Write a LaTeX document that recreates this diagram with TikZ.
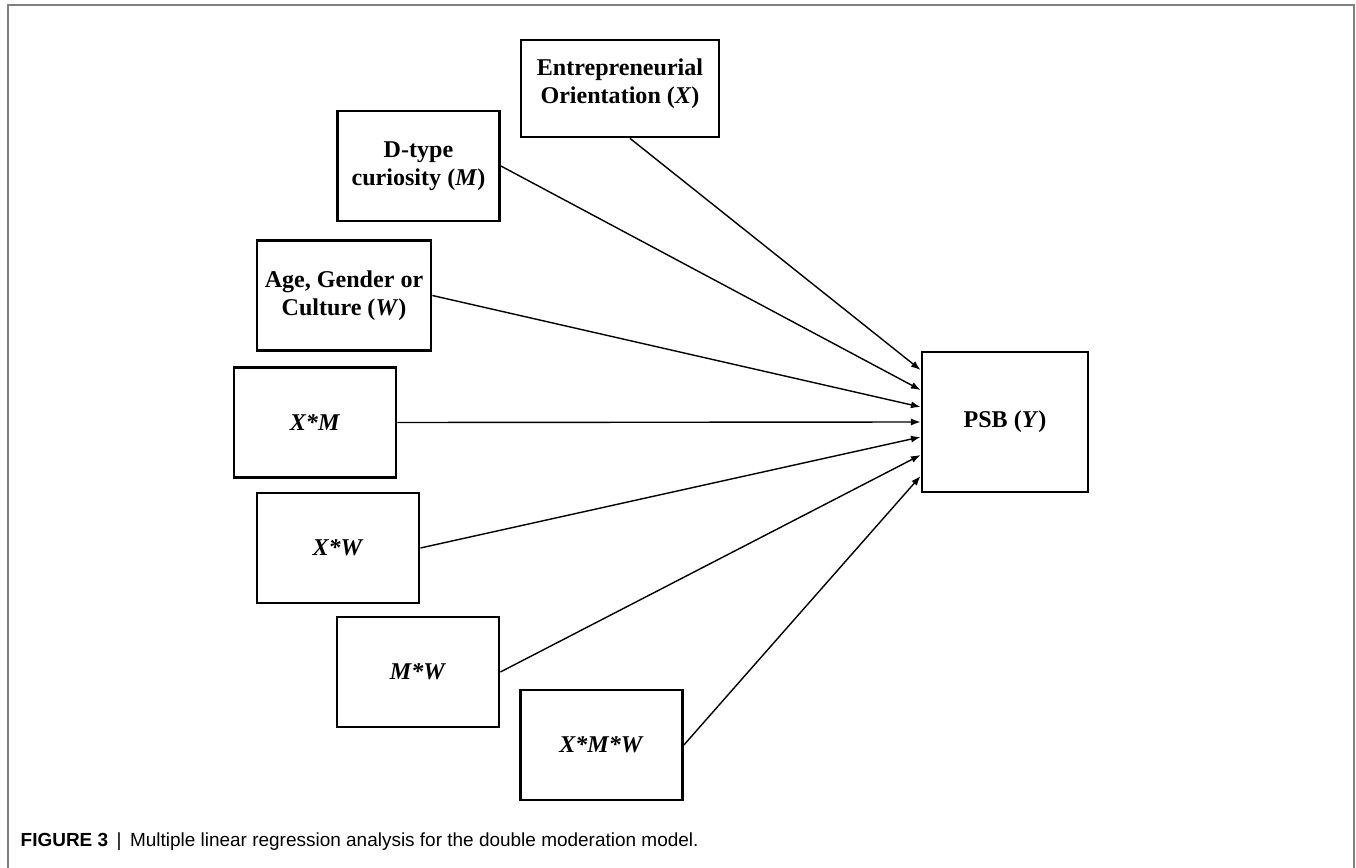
\documentclass[tikz,border=0pt]{standalone}
\usepackage{fontspec}
\setmainfont{Liberation Serif}
\newfontfamily\capfont{Liberation Sans}
\usetikzlibrary{arrows.meta}

\begin{document}
\begin{tikzpicture}[x=0.02cm,y=-0.02cm]
    \tikzstyle{every path}=[line width=0.8pt]

    \edef\boxwd{3.24cm}
    \edef\boxht{2.2cm}
    \tikzstyle{varbox}=[draw,line width=1.6pt,align=center,inner sep=2pt,
    font=\fontsize{13.7}{16}\selectfont\bfseries,
    minimum width=\boxwd,minimum height=\boxht]
    \tikzstyle{regarrow}=[-{Latex[length=5.5pt,width=4pt]}]

    \useasboundingbox (0,0) rectangle (1356,868);

    %% Draw outer frame, open at the bottom
    \draw [gray,line width=1.2pt] (8,868) -- (8,5) -- (1354,5) -- (1354,868);

    %% Draw predictor boxes
    \node [varbox,minimum width=3.96cm,minimum height=1.94cm] at (620,88.5) (eo)
        {Entrepreneurial\\Orientation (\textit{X})\\[-8pt]};
    \node [varbox] at (418.5,166) (dtc) {D-type\\curiosity (\textit{M})};
    \node [varbox,minimum width=3.48cm] at (344,295.5) (agc)
        {Age, Gender or\\Culture (\textit{W})};
    \node [varbox] at (315,422.5) (xm) {\textit{X*M}};
    \node [varbox] at (338,548) (xw) {\textit{X*W}};
    \node [varbox] at (418,672) (mw) {\textit{M*W}};
    \node [varbox] at (601.5,745) (xmw) {\textit{X*M*W}};

    %% Draw outcome box and the points where the arrows meet it
    \node [varbox,minimum width=3.32cm,minimum height=2.8cm] at (1005,422) (psb)
        {PSB (\textit{Y})};
    \coordinate [yshift=1.04cm] (in1) at (psb.west);
    \coordinate [yshift=0.64cm] (in2) at (psb.west);
    \coordinate [yshift=0.30cm] (in3) at (psb.west);
    \coordinate (in4) at (psb.west);
    \coordinate [yshift=-0.30cm] (in5) at (psb.west);
    \coordinate [yshift=-0.66cm] (in6) at (psb.west);
    \coordinate [yshift=-1.08cm] (in7) at (psb.west);

    %% Draw regression paths
    \draw [regarrow] ([xshift=0.2cm]eo.south) to (in1);
    \draw [regarrow] (dtc.east) to (in2);
    \draw [regarrow] (agc.east) to (in3);
    \draw [regarrow] (xm.east) to (in4);
    \draw [regarrow] (xw.east) to (in5);
    \draw [regarrow] (mw.east) to (in6);
    \draw [regarrow] (xmw.east) to (in7);

    %% Draw caption
    \node [anchor=west,inner sep=0pt,font=\capfont\fontsize{10.8}{12}\selectfont]
        at (20,842) (caption)
        {\textbf{FIGURE 3} \,|\, Multiple linear regression analysis for the double moderation model.};
\end{tikzpicture}
\end{document}
